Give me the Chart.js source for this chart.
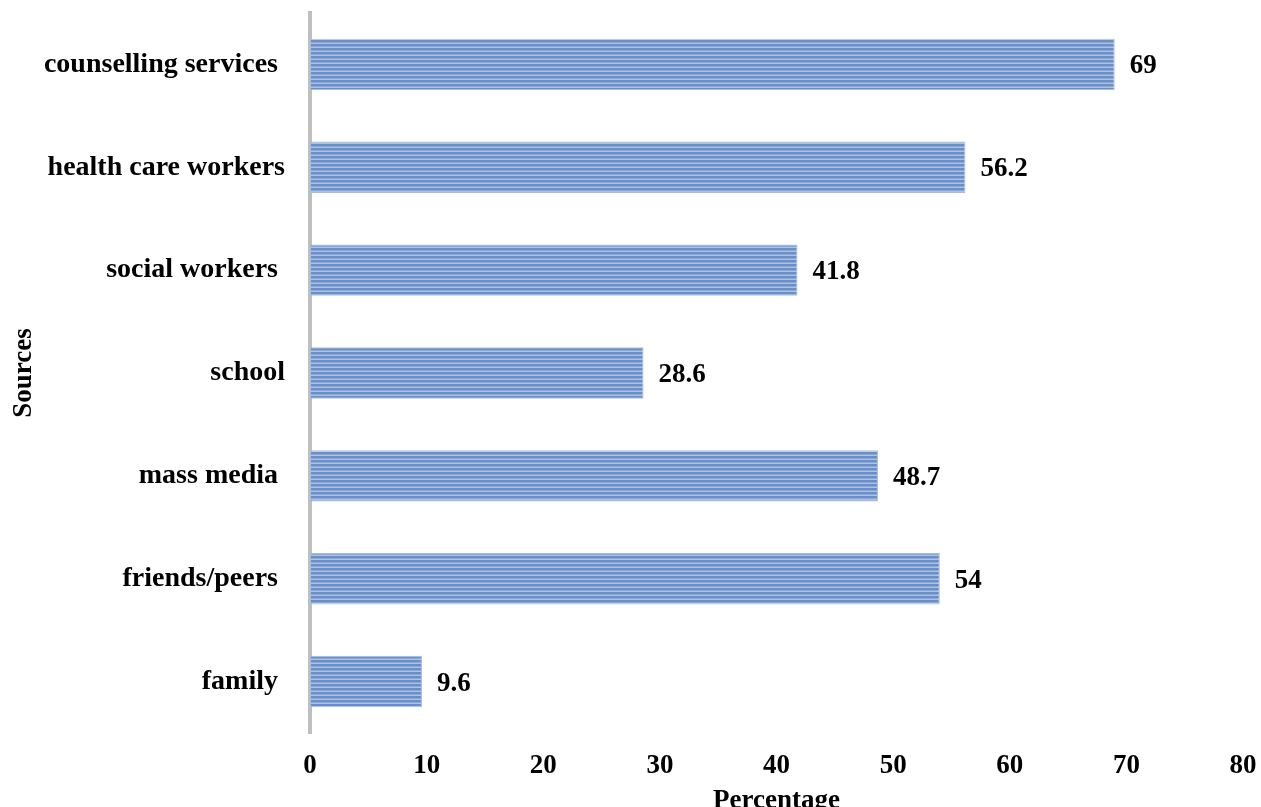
<!DOCTYPE html>
<html>
<head>
<meta charset="utf-8">
<script src="https://cdn.jsdelivr.net/npm/chart.js@4"></script>
<style>
  html, body { margin: 0; padding: 0; background: #fff; }
  #wrap { width: 1261px; height: 807px; }
</style>
</head>
<body>
<div id="wrap"><canvas id="myChart" width="1261" height="807"></canvas></div>
<script>
const sources = ['counselling services ', 'health care workers', 'social workers ', 'school', 'mass media ', 'friends/peers ', 'family '];
const percentages = [69, 56.2, 41.8, 28.6, 48.7, 54, 9.6];
const xTicks = [0, 10, 20, 30, 40, 50, 60, 70, 80];

const serif = "'Liberation Serif', 'Times New Roman', serif";

// horizontal stripe fill for the bars
function stripeFill() {
  const c = document.createElement('canvas');
  c.width = 6;
  c.height = 4;
  const g = c.getContext('2d');
  g.fillStyle = '#6a8fc7';
  g.fillRect(0, 0, 6, 2);
  g.fillStyle = '#8aa8d7';
  g.fillRect(0, 2, 6, 1);
  g.fillStyle = '#adc3e6';
  g.fillRect(0, 3, 6, 1);
  return g.createPattern(c, 'repeat');
}

const valueLabels = {
  id: 'valueLabels',
  afterDatasetsDraw(chart) {
    const ctx = chart.ctx;
    const meta = chart.getDatasetMeta(0);
    ctx.save();
    ctx.font = 'bold 27px ' + serif;
    ctx.fillStyle = '#000';
    ctx.textAlign = 'left';
    ctx.textBaseline = 'middle';
    meta.data.forEach((bar, i) => {
      ctx.fillText(String(percentages[i]), bar.x + 15, bar.y + 2);
    });
    ctx.restore();
  }
};

const ctx = document.getElementById('myChart');

new Chart(ctx, {
  type: 'bar',
  data: {
    labels: sources,
    datasets: [{
      data: percentages,
      backgroundColor: stripeFill(),
      borderColor: '#a6bde2',
      borderWidth: 1,
      borderSkipped: false,
      barPercentage: 0.5,
      categoryPercentage: 1
    }]
  },
  options: {
    indexAxis: 'y',
    responsive: false,
    animation: false,
    layout: { padding: { top: 13, right: 18, left: 0, bottom: 0 } },
    plugins: {
      legend: { display: false },
      tooltip: { enabled: false }
    },
    scales: {
      x: {
        min: 0,
        max: 80,
        afterBuildTicks(scale) {
          scale.ticks = xTicks.map(v => ({ value: v }));
        },
        afterFit(scale) {
          scale.height = 74;
          scale.paddingLeft = 0;
          scale.paddingRight = 0;
        },
        grid: { display: false, drawTicks: false },
        border: { display: false },
        ticks: {
          color: '#000',
          padding: 17,
          font: { family: serif, size: 27, weight: 'bold' }
        },
        title: {
          display: true,
          text: 'Percentage',
          color: '#000',
          padding: { top: 0, bottom: -10 },
          font: { family: serif, size: 27, weight: 'bold' }
        }
      },
      y: {
        afterFit(scale) {
          scale.width = 310;
          scale.paddingTop = 0;
          scale.paddingBottom = 0;
        },
        grid: { display: false, drawTicks: false },
        border: { display: true, color: '#bfbfbf', width: 4 },
        ticks: {
          color: '#000',
          padding: 25,
          font: { family: serif, size: 28, weight: 'bold' }
        },
        title: {
          display: true,
          text: 'Sources',
          color: '#000',
          padding: { top: 8, bottom: 0 },
          font: { family: serif, size: 27, weight: 'bold' }
        }
      }
    }
  },
  plugins: [valueLabels]
});
</script>
</body>
</html>
